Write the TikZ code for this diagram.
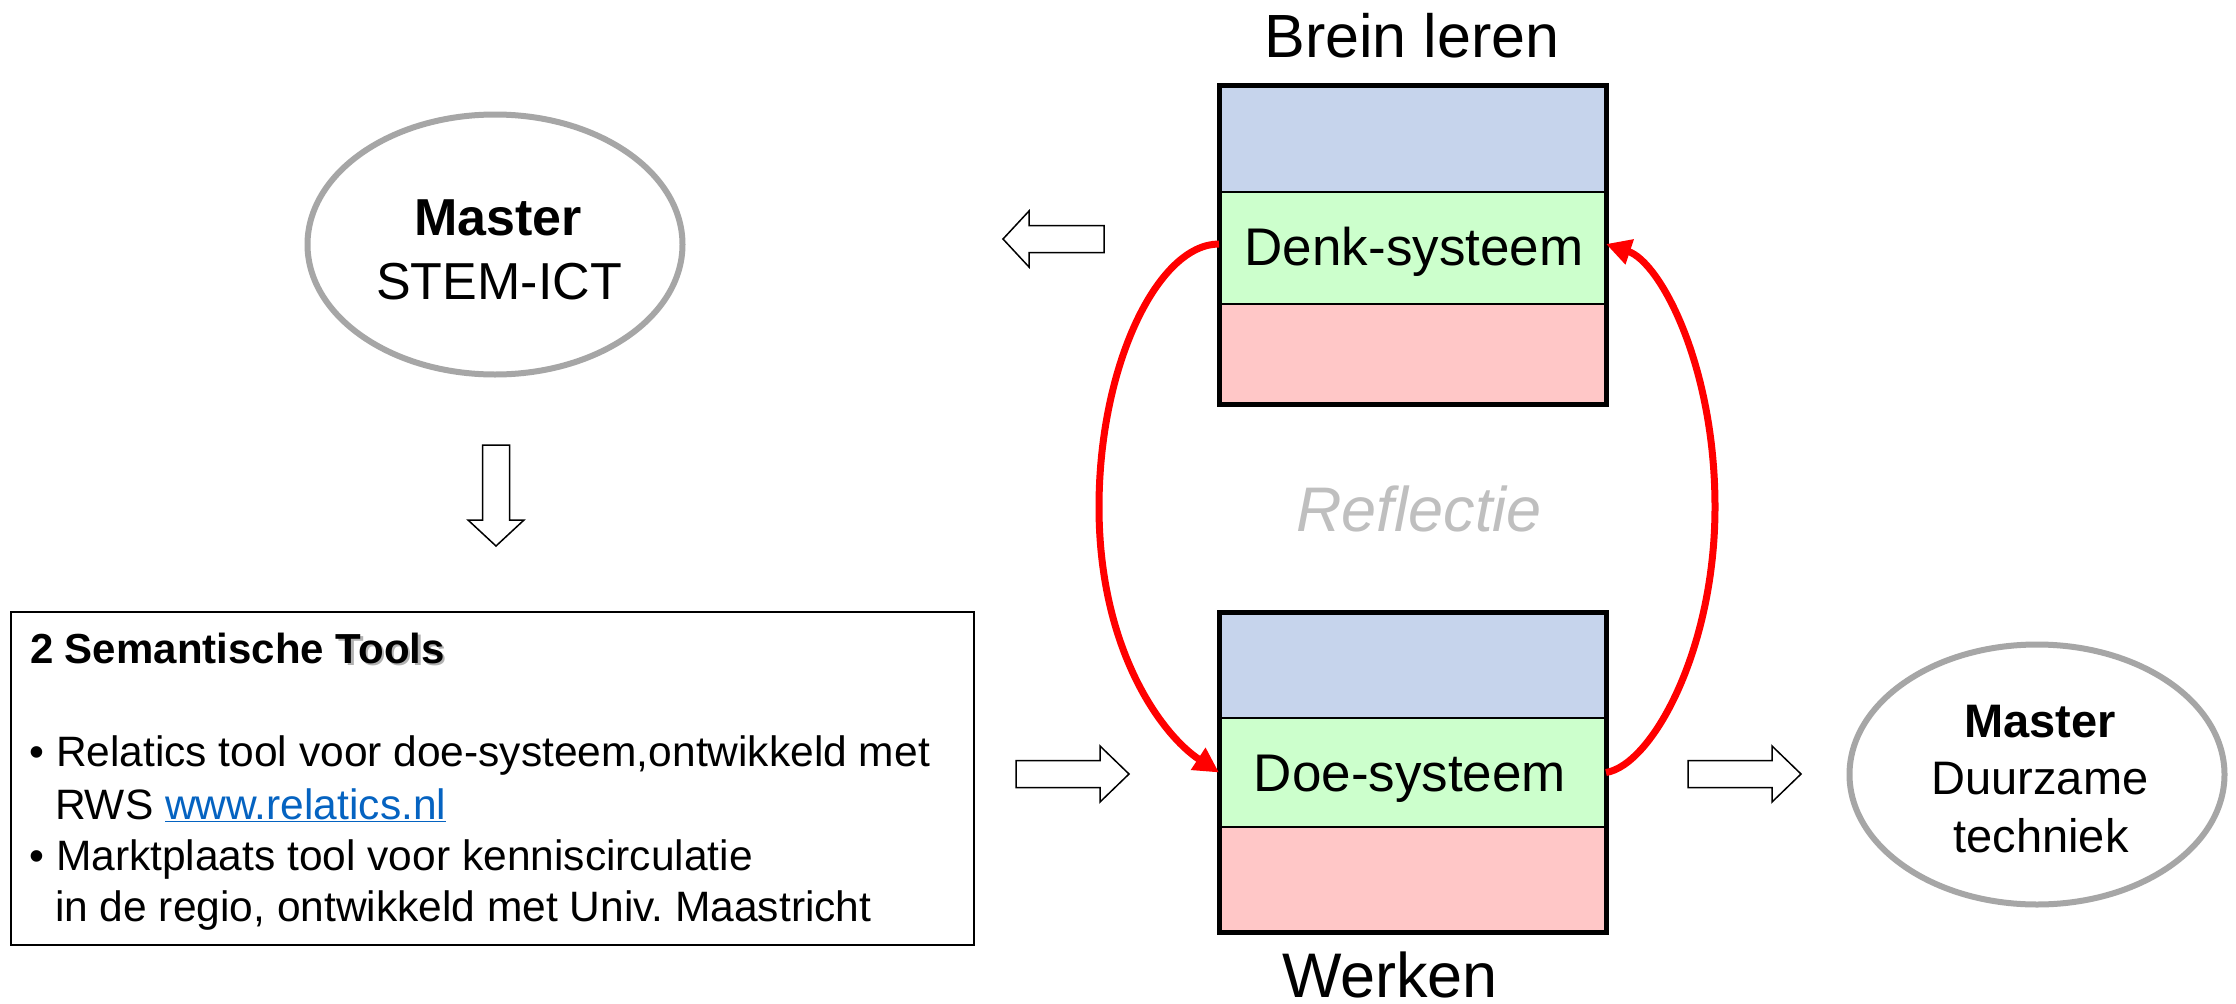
\documentclass[tikz,border=0pt]{standalone}
\usepackage{fontspec}
\setmainfont{Liberation Sans}
\usetikzlibrary{arrows.meta,shapes.geometric}
\definecolor{bandblue}{HTML}{C6D4EC}
\definecolor{bandgreen}{HTML}{CCFFCC}
\definecolor{bandred}{HTML}{FFC7C7}
\definecolor{ellgray}{HTML}{A6A6A6}
\definecolor{refgray}{HTML}{BFBFBF}
\definecolor{linkblue}{HTML}{0563C1}
\definecolor{curvered}{HTML}{FF0000}
\newcommand{\myfs}[1]{\fontsize{#1}{#1}\selectfont}
\newcommand{\toolshadow}[1]{\rlap{\kern2.5pt\raisebox{-2.5pt}{\textcolor{black!30}{#1}}}#1}
\frenchspacing
\tikzset{
  pics/blockarr/.style 2 args={code={
    \draw[blockarrow] (0,-13.5) -- ({#1-#2},-13.5) -- ({#1-#2},-28) -- (#1,0)
      -- ({#1-#2},28) -- ({#1-#2},13.5) -- (0,13.5) -- cycle;}}
}
\begin{document}
\begin{tikzpicture}[x=1pt,y=-1pt,
  band/.style={draw=black, line width=2pt, inner sep=0pt, outer sep=0pt,
    minimum width=387pt, anchor=north west},
  blockframe/.style={draw=black, line width=5pt},
  txt/.style={inner sep=0pt, outer sep=0pt, anchor=base},
  master/.style={ellipse, draw=ellgray, line width=6pt, fill=white,
    minimum width=375pt, minimum height=260pt, inner sep=0pt},
  blockarrow/.style={draw=black, fill=white, line width=1.5pt, line join=miter},
  redcurve/.style={draw=curvered, line width=7pt,
    -{Triangle[length=25pt,width=25pt]}},
  toolbox/.style={draw=black, line width=2pt, inner sep=0pt, anchor=north west,
    minimum width=963pt, minimum height=333pt}
]
\useasboundingbox (0,0) rectangle (2236,1004);
\fill[white] (0,0) rectangle (2236,1004);

% top block (Brein leren)
\node[band, fill=bandblue, minimum height=107pt] (tblue) at (1219,85) {};
\node[band, fill=bandgreen, minimum height=112pt] (denk) at (1219,192) {};
\node[band, fill=bandred, minimum height=100pt] (tred) at (1219,304) {};
\draw[blockframe] (tblue.north west) rectangle (tred.south east);
\node[txt, font=\myfs{53}] (denktxt) at (1414,265) {Denk-systeem};
\node[txt, font=\myfs{61}] (brein) at (1412,57) {Brein leren};

% bottom block (Werken)
\node[band, fill=bandblue, minimum height=105.5pt] (bblue) at (1219,612.5) {};
\node[band, fill=bandgreen, minimum height=109pt] (doe) at (1219,718) {};
\node[band, fill=bandred, minimum height=105.5pt] (bred) at (1219,827) {};
\draw[blockframe] (bblue.north west) rectangle (bred.south east);
\node[txt, font=\myfs{53}] (doetxt) at (1410,791) {Doe-systeem};
\node[txt, font=\myfs{63}] (werken) at (1390,997) {Werken};

% reflection label
\node[txt, font=\myfs{63}\itshape, text=refgray] (refl) at (1419,531) {Reflectie};

% red reflection loops
\draw[redcurve] ([yshift=4pt]denk.west) .. controls (1158,244) and (1099,365) .. (1099,507)
  .. controls (1099,650) and (1162,735) .. (doe.west);
\draw[redcurve] (doe.east) .. controls (1652,765) and (1715,650) .. (1715,507)
  .. controls (1715,365) and (1660,262) .. ([yshift=4pt]denk.east);

% master ellipses
\node[master] (stem) at (495,244.5) {};
\node[txt, font=\myfs{52}\bfseries] (stema) at (498,235) {Master};
\node[txt, font=\myfs{52}] (stemb) at (499,299) {STEM-ICT};
\node[master] (duur) at (2037,774.5) {};
\node[txt, font=\myfs{47}\bfseries] (duura) at (2040,737) {Master};
\node[txt, font=\myfs{47}] (duurb) at (2040,794) {Duurzame};
\node[txt, font=\myfs{47}] (duurc) at (2041,852) {techniek};

% tools box
\node[toolbox] (tools) at (10,611) {};
\node[txt, anchor=base west, font=\myfs{42}\bfseries] (toolhead) at (30,663)
  {2 Semantische \toolshadow{Tools}};
\node[txt, anchor=base west, font=\myfs{42.5}] (b1) at (29,766) {•};
\node[txt, anchor=base west, font=\myfs{42.5}] (l1) at (56,766)
  {Relatics tool voor doe-systeem,ontwikkeld met};
\node[txt, anchor=base west, font=\myfs{42.5}] (l2) at (55,819)
  {RWS \textcolor{linkblue}{\underline{www.relatics.nl}}};
\node[txt, anchor=base west, font=\myfs{42.5}] (b2) at (29,870) {•};
\node[txt, anchor=base west, font=\myfs{42.5}] (l3) at (56,870)
  {Marktplaats tool voor kenniscirculatie};
\node[txt, anchor=base west, font=\myfs{42.5}] (l4) at (55,921)
  {in de regio, ontwikkeld met Univ. Maastricht};

% block arrows
\pic[rotate=180] at (1104,239) {blockarr={101}{26}};
\pic[rotate=-90] at (496,445) {blockarr={101}{26}};
\pic at (1016,774) {blockarr={113}{29}};
\pic at (1688,774) {blockarr={113}{29}};
\end{tikzpicture}
\end{document}
